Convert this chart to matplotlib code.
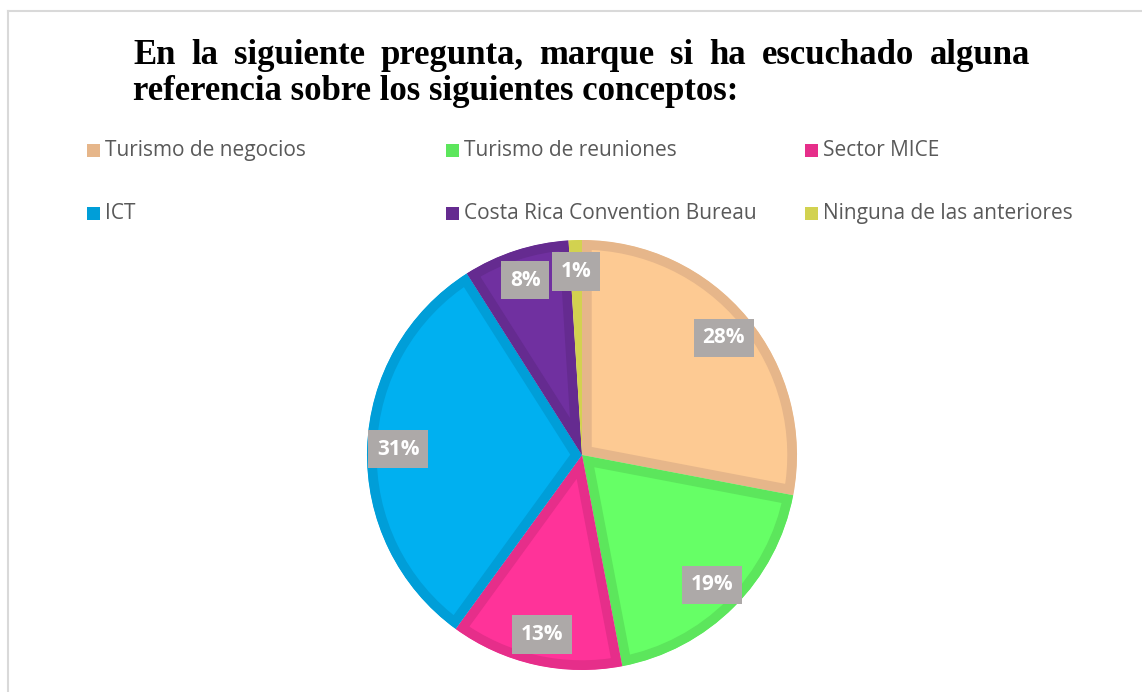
import matplotlib.pyplot as plt
from matplotlib.patches import Rectangle
from matplotlib.lines import Line2D

# datos
categorias = ['Turismo de negocios', 'Turismo de reuniones', 'Sector MICE',
              'ICT', 'Costa Rica Convention Bureau', 'Ninguna de las anteriores']
valores = [28, 19, 13, 31, 8, 1]
relleno = ['#FDCA93', '#66FF66', '#FF3399', '#00B0F0', '#7030A0', '#E3E35A']
borde = ['#E6B68A', '#5CE65C', '#E62E8A', '#009ED8', '#652B90', '#D2D250']

titulo_1 = 'En la siguiente pregunta, marque si ha escuchado alguna'
titulo_2 = 'referencia sobre los siguientes conceptos:'

W, H = 1142, 692

fig = plt.figure(figsize=(W / 100, H / 100), dpi=100)
ax = fig.add_axes([0, 0, 1, 1])

# pastel (coordenadas en pixeles, y hacia arriba)
cx, cy, radio = 582, H - 455, 215
wedges, _, autotexts = ax.pie(valores, colors=relleno, startangle=90, counterclock=False,
                              center=(cx, cy), radius=radio, autopct='%1.0f%%',
                              pctdistance=0.855,
                              textprops=dict(color='white', fontsize=15,
                                             fontweight='bold', family='Open Sans'))
for w, c in zip(wedges, borde):
    w.set_edgecolor(c)
    w.set_linewidth(14)
    w.set_joinstyle('miter')
    w.set_clip_path(w)   # borde solo hacia dentro
    w.set_clip_on(True)
for t in autotexts:
    t.set_bbox(dict(boxstyle='square,pad=0.42', facecolor='#ADA9A8', edgecolor='none'))

ax.set_xlim(0, W)
ax.set_ylim(0, H)
ax.set_aspect('auto')
ax.axis('off')

# marco
ax.add_line(Line2D([8, 8], [0, H - 11], color='#D9D9D9', lw=1.5))
ax.add_line(Line2D([8, W], [H - 11, H - 11], color='#D9D9D9', lw=1.5))

# leyenda
for i, (nombre, c) in enumerate(zip(categorias, borde)):
    fila, col = i // 3, i % 3
    x = 87 + col * 359
    y = H - (150 + fila * 63)
    ax.add_patch(Rectangle((x, y - 6.5), 13, 13, facecolor=c, edgecolor='none'))
    ax.text(x + 18, y - 6, nombre, fontsize=15, family='Open Sans', color='#595959',
            va='baseline', ha='left')

# titulo justificado
estilo = dict(fontsize=25, fontweight='bold', family='Liberation Serif', color='black',
              va='baseline', ha='left')
palabras = titulo_1.split()
textos = [ax.text(0, H - 64, p, **estilo) for p in palabras]
ax.text(133, H - 100, titulo_2, **estilo)
fig.canvas.draw()
r = fig.canvas.get_renderer()
anchos = [t.get_window_extent(r).width for t in textos]
x0, x1 = 133, 1030
hueco = (x1 - x0 - sum(anchos)) / (len(palabras) - 1)
x = x0
for t, a in zip(textos, anchos):
    t.set_x(x)
    x += a + hueco

fig.savefig('out.png', dpi=100)
